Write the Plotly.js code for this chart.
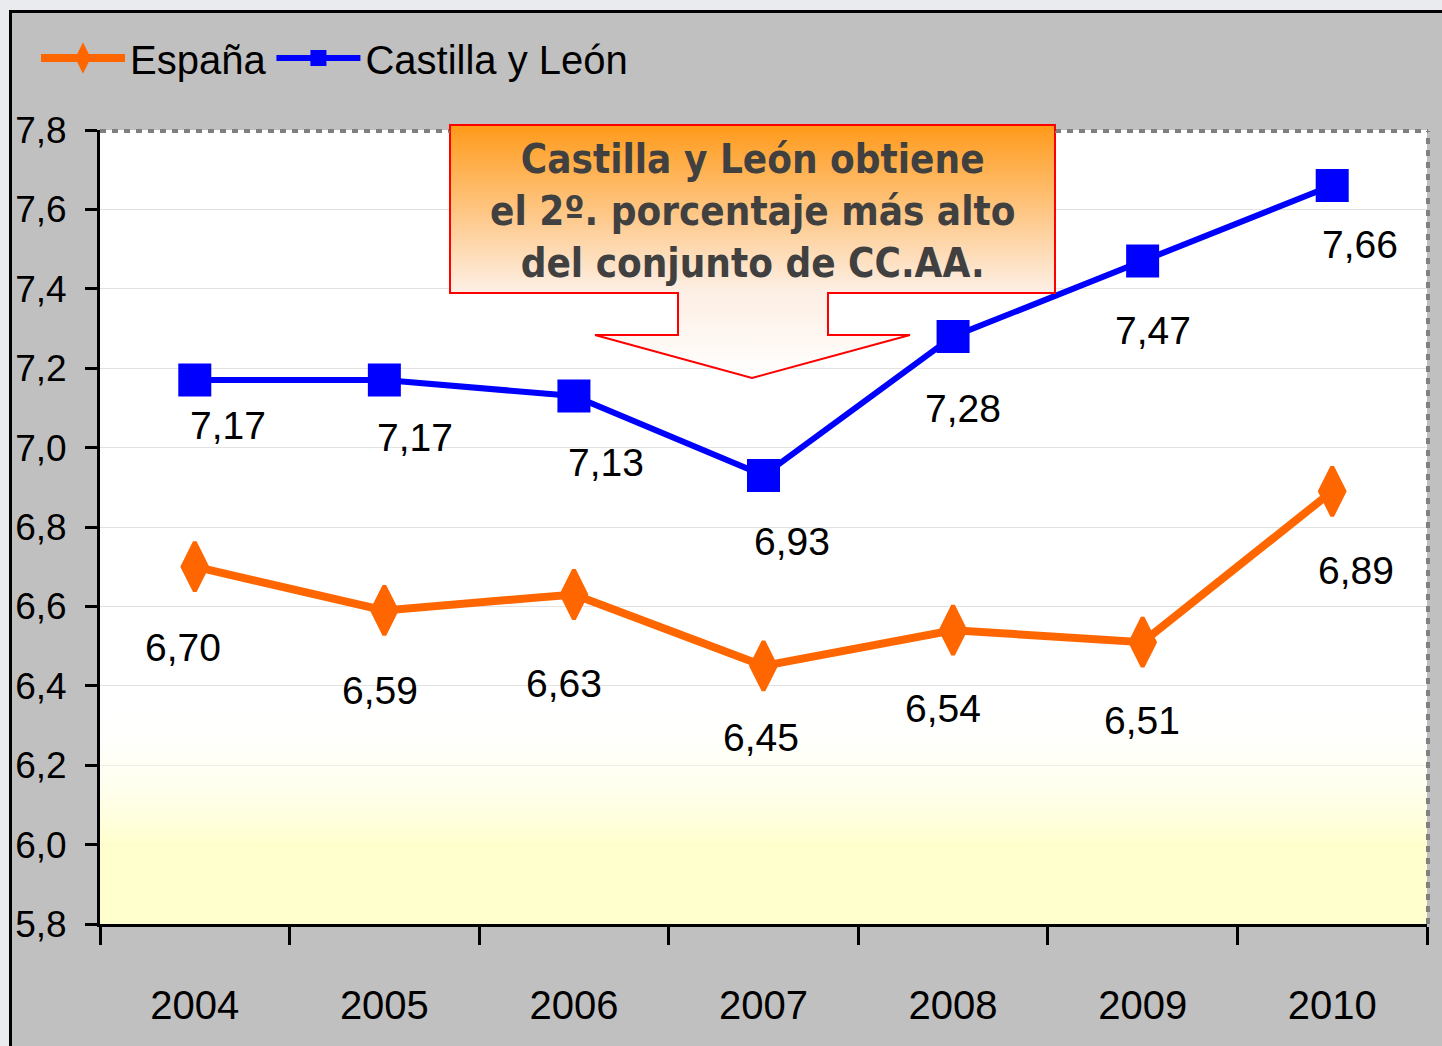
<!DOCTYPE html>
<html>
<head>
<meta charset="utf-8">
<script src="https://cdn.plot.ly/plotly-3.0.1.min.js"></script>
<style>
  html, body { margin: 0; padding: 0; background: #e9ebee; }
  #chart { width: 1442px; height: 1046px; }
</style>
</head>
<body>
<div id="chart"></div>
<script>
// ---- data ----
const years = [2004, 2005, 2006, 2007, 2008, 2009, 2010];
const espana = [6.70, 6.59, 6.63, 6.45, 6.54, 6.51, 6.89];
const castillaLeon = [7.17, 7.17, 7.13, 6.93, 7.28, 7.47, 7.66];
const seriesNames = ['España', 'Castilla y León'];
const yTicks = [5.8, 6.0, 6.2, 6.4, 6.6, 6.8, 7.0, 7.2, 7.4, 7.6, 7.8];
const calloutLines = ['Castilla y León obtiene', 'el 2º. porcentaje más alto', 'del conjunto de CC.AA.'];

// ---- style / layout helpers ----
const NUMFONT = '"Liberation Sans", Arial, sans-serif';
const BOXFONT = '"DejaVu Sans Condensed", "DejaVu Sans", sans-serif';
const W = 1442, H = 1046;
const M = {l: 100, r: 15, t: 130, b: 122};
const plotW = W - M.l - M.r, plotH = H - M.t - M.b;
const xMin = 2003.5, xMax = 2010.5, yMin = 5.8, yMax = 7.8;
const xp = px => (px - M.l) / plotW;           // pixel -> paper x
const yp = py => (H - M.b - py) / plotH;        // pixel -> paper y
const dx = px => xMin + (px - M.l) / plotW * (xMax - xMin); // pixel -> data x
const dy = py => yMax - (py - M.t) / plotH * (yMax - yMin);  // pixel -> data y

// label offsets (px) as placed in the original chart
const cylShift = [[33,-45],[31,-57],[32,-67],[28,-66],[10,-72],[10,-69],[28,-59]];
const espShift = [[-12,-81],[-4,-80],[-10,-89],[-3,-72],[-10,-78],[-1,-78],[24,-79]];
const fmt = v => v.toFixed(2).replace('.', ',');

const boundaries = [];
for (let i = 0; i <= years.length; i++) boundaries.push(years[0] - 0.5 + i);

// ---- traces ----
const bgTrace = {
  x: [xMin, xMax, xMax, xMin, xMin], y: [yMin, yMin, yMax, yMax, yMin],
  mode: 'lines', line: {width: 0}, fill: 'toself', showlegend: false, hoverinfo: 'skip',
  fillgradient: {type: 'vertical', start: yMin, stop: yMax,
    colorscale: [[0, 'rgba(255,255,200,0.9)'], [0.1, 'rgba(255,255,200,0.9)'], [0.28, 'rgba(255,255,255,0)'], [1, 'rgba(255,255,255,0)']]}
};

const espTrace = {
  x: years, y: espana, name: seriesNames[0], mode: 'lines+markers',
  line: {color: '#ff6600', width: 8},
  marker: {symbol: 'diamond-tall', size: 35, color: '#ff6600', line: {color: '#ff6600', width: 4}},
  hoverinfo: 'skip'
};
const cylTrace = {
  x: years, y: castillaLeon, name: seriesNames[1], mode: 'lines+markers',
  line: {color: '#0000ff', width: 6},
  marker: {symbol: 'square', size: 33, color: '#0000ff'},
  hoverinfo: 'skip'
};

const calloutPx = [[450,125],[1055,125],[1055,293],[828,293],[828,335],[910,335],[752,378],[595,335],[678,335],[678,293],[450,293],[450,125]];
const calloutTrace = {
  x: calloutPx.map(p => dx(p[0])), y: calloutPx.map(p => dy(p[1])),
  mode: 'lines', line: {color: '#ff0000', width: 2}, fill: 'toself', showlegend: false, hoverinfo: 'skip',
  fillgradient: {type: 'vertical', start: dy(378), stop: dy(125),
    colorscale: [[0, '#ffffff'], [0.35, '#fdeee3'], [1, '#ff9a1a']]}
};

// ---- annotations ----
const annotations = [];
years.forEach((yr, i) => {
  annotations.push({x: yr, y: castillaLeon[i], xref: 'x', yref: 'y', text: fmt(castillaLeon[i]), showarrow: false,
    xanchor: 'center', yanchor: 'middle', xshift: cylShift[i][0], yshift: cylShift[i][1],
    font: {family: NUMFONT, size: 39, color: '#000000'}});
  annotations.push({x: yr, y: espana[i], xref: 'x', yref: 'y', text: fmt(espana[i]), showarrow: false,
    xanchor: 'center', yanchor: 'middle', xshift: espShift[i][0], yshift: espShift[i][1],
    font: {family: NUMFONT, size: 39, color: '#000000'}});
});
annotations.push({x: xp(752), y: yp(211), xref: 'paper', yref: 'paper', showarrow: false,
  text: calloutLines.join('<br>'), xanchor: 'center', yanchor: 'middle',
  font: {family: BOXFONT, size: 40, color: '#404040', weight: 'bold'}});

// ---- shapes (frame & decorations) ----
const dashLine = {color: '#808080', width: 4, dash: '6px,6px'};
const shapes = [
  {type: 'rect', xref: 'paper', yref: 'paper', x0: xp(0), x1: xp(9), y0: yp(H), y1: yp(0), fillcolor: '#e9ebee', line: {width: 0}, layer: 'above'},
  {type: 'rect', xref: 'paper', yref: 'paper', x0: xp(0), x1: xp(W), y0: yp(10), y1: yp(0), fillcolor: '#e9ebee', line: {width: 0}, layer: 'above'},
  {type: 'line', xref: 'paper', yref: 'paper', x0: xp(10.5), x1: xp(10.5), y0: yp(H), y1: yp(10), line: {color: '#000', width: 3}, layer: 'above'},
  {type: 'line', xref: 'paper', yref: 'paper', x0: xp(9), x1: xp(W), y0: yp(11.5), y1: yp(11.5), line: {color: '#000', width: 3}, layer: 'above'},
  {type: 'line', xref: 'paper', yref: 'paper', x0: xp(100), x1: xp(450), y0: yp(131), y1: yp(131), line: dashLine, layer: 'above'},
  {type: 'line', xref: 'paper', yref: 'paper', x0: xp(1055), x1: xp(1428), y0: yp(131), y1: yp(131), line: dashLine, layer: 'above'},
  {type: 'line', xref: 'paper', yref: 'paper', x0: xp(1428), x1: xp(1428), y0: yp(924), y1: yp(131), line: dashLine, layer: 'above'},
  {type: 'path', xref: 'paper', yref: 'paper', layer: 'above',
   path: 'M' + xp(450) + ',' + yp(131) + ' L' + xp(450) + ',' + yp(125) + ' L' + xp(1055) + ',' + yp(125) + ' L' + xp(1055) + ',' + yp(131),
   fillcolor: '#ff9a1a', line: {color: '#ff0000', width: 2}}
];

const layout = {
  width: W, height: H,
  margin: M,
  paper_bgcolor: '#c0c0c0',
  plot_bgcolor: '#ffffff',
  separators: ',.',
  showlegend: true,
  legend: {orientation: 'h', x: xp(36), y: yp(58), xanchor: 'left', yanchor: 'middle',
    font: {family: NUMFONT, size: 40, color: '#000'}, bgcolor: 'rgba(0,0,0,0)',
    itemwidth: 84, itemsizing: 'trace'},
  xaxis: {
    type: 'linear', range: [xMin, xMax], showgrid: false, zeroline: false,
    tickmode: 'array', tickvals: years, ticktext: years.map(String), ticks: '',
    tickfont: {family: NUMFONT, size: 40, color: '#000'}, ticklabelstandoff: 44,
    showline: true, linecolor: '#000', linewidth: 3,
    minor: {tickmode: 'array', tickvals: boundaries, ticks: 'outside', ticklen: 18, tickwidth: 3, tickcolor: '#000', showgrid: false}
  },
  yaxis: {
    range: [yMin, yMax], tickmode: 'array', tickvals: yTicks, tickformat: '.1f',
    ticks: 'outside', ticklen: 12, tickwidth: 3, tickcolor: '#000',
    tickfont: {family: NUMFONT, size: 37, color: '#000'}, ticklabelstandoff: 11,
    showgrid: true, gridcolor: '#e2e2e2', gridwidth: 1, zeroline: false,
    showline: true, linecolor: '#000', linewidth: 3
  },
  annotations: annotations,
  shapes: shapes
};

Plotly.newPlot('chart', [bgTrace, espTrace, cylTrace, calloutTrace], layout, {displayModeBar: false, staticPlot: true});
</script>
</body>
</html>
